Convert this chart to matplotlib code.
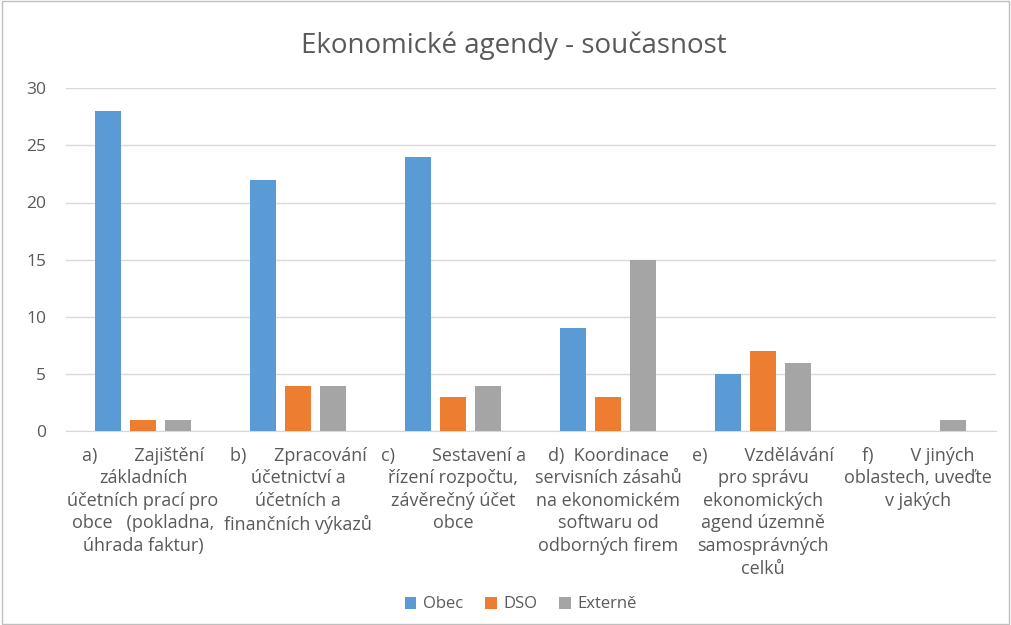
import matplotlib.pyplot as plt
import numpy as np
from matplotlib.patches import Rectangle

plt.rcParams['font.family'] = ['Open Sans', 'DejaVu Sans']

# data
categories = [
    "a)        Zajištění\nzákladních\núčetních prací pro\nobce   (pokladna,\núhrada faktur)",
    "b)      Zpracování\núčetnictví a\núčetních a\nfinančních výkazů",
    "c)        Sestavení a\nřízení rozpočtu,\nzávěrečný účet\nobce",
    "d)  Koordinace\nservisních zásahů\nna ekonomickém\nsoftwaru od\nodborných firem",
    "e)        Vzdělávání\npro správu\nekonomických\nagend územně\nsamosprávných\ncelků",
    "f)        V jiných\noblastech, uveďte\nv jakých",
]
obec = [28, 22, 24, 9, 5, 0]
dso = [1, 4, 3, 3, 7, 0]
externe = [1, 4, 4, 15, 6, 1]

series = [("Obec", obec, "#5B9BD5"), ("DSO", dso, "#ED7D31"), ("Externě", externe, "#A5A5A5")]

fig = plt.figure(figsize=(10.11, 6.25), dpi=100)
ax = fig.add_axes([0.0648, 0.31, 0.92, 0.549])

x = np.arange(len(categories))
w = 0.17
offs = [-0.225, 0, 0.225]
for (name, vals, col), o in zip(series, offs):
    ax.bar(x + o, vals, width=w, color=col, label=name, zorder=3)

ax.set_xlim(-0.5, len(categories) - 0.5)
ax.set_ylim(0, 30)
ax.set_yticks(range(0, 31, 5))
ax.grid(axis='y', color='#D9D9D9', linewidth=1, zorder=0)
for s in ['top', 'right', 'left']:
    ax.spines[s].set_visible(False)
ax.spines['bottom'].set_color('#D9D9D9')
ax.tick_params(axis='both', length=0, colors='#595959', labelsize=12.5)
ax.tick_params(axis='y', pad=14)
ax.set_xticks(x)
ax.set_xticklabels(categories, fontsize=13, color='#595959', ha='center', va='top')
for lbl in ax.get_xticklabels():
    lbl.set_linespacing(1.33)
ax.tick_params(axis='x', pad=11)

fig.suptitle('Ekonomické agendy - současnost', fontsize=20, color='#595959', x=0.508, y=0.95)

fig.legend(loc='lower center', ncol=3, frameon=False, fontsize=12, bbox_to_anchor=(0.515, -0.004),
           handlelength=0.7, handleheight=0.7, handletextpad=0.4, columnspacing=1.3,
           labelcolor='#595959')

fig.patches.append(Rectangle((0.002, 0.002), 0.996, 0.996, transform=fig.transFigure,
                             fill=False, edgecolor='#BFBFBF', linewidth=1))

plt.savefig('out.png', dpi=100)
plt.close()
